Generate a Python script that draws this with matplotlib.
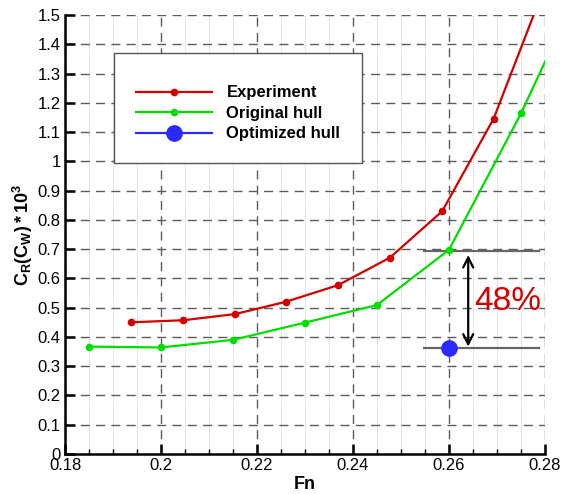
import numpy as np
import matplotlib
matplotlib.use('Agg')
import matplotlib.pyplot as plt
from matplotlib.ticker import MultipleLocator, FuncFormatter

plt.rcParams['font.family'] = ['Liberation Sans', 'DejaVu Sans']
plt.rcParams['mathtext.fontset'] = 'custom'
plt.rcParams['mathtext.rm'] = 'Liberation Sans'
plt.rcParams['mathtext.bf'] = 'Liberation Sans:bold'
plt.rcParams['mathtext.it'] = 'Liberation Sans:italic'

# data
fn_exp = [0.1938, 0.2046, 0.2154, 0.2260, 0.2369, 0.2477, 0.2586, 0.2693, 0.2800]
cr_exp = [0.450, 0.457, 0.478, 0.520, 0.577, 0.671, 0.830, 1.146, 1.600]

fn_orig = [0.185, 0.200, 0.215, 0.230, 0.245, 0.260, 0.275, 0.290]
cr_orig = [0.367, 0.364, 0.390, 0.449, 0.509, 0.698, 1.164, 1.692]

fn_opt = [0.260]
cr_opt = [0.363]

# reference levels for the reduction annotation
level_orig = 0.695
level_opt = 0.362
level_x = [0.2548, 0.2788]
arrow_x = 0.2640
pct_label = "48%"

fig = plt.figure(figsize=(5.63, 4.94), dpi=100)
ax = fig.add_axes([65 / 563, 40 / 494, 480 / 563, 439 / 494])

ax.set_xlim(0.18, 0.28)
ax.set_ylim(0, 1.5)
ax.xaxis.set_major_locator(MultipleLocator(0.02))
ax.xaxis.set_minor_locator(MultipleLocator(0.005))
ax.yaxis.set_major_locator(MultipleLocator(0.1))
ax.xaxis.set_major_formatter(FuncFormatter(lambda v, p: f"{round(v, 3):g}"))
ax.yaxis.set_major_formatter(FuncFormatter(lambda v, p: f"{round(v, 3):g}"))

ax.grid(which='minor', axis='x', color='#b8b8b8', lw=0.6, ls=(0, (1, 1.5)), zorder=0)
ax.grid(which='major', color='#5c5c5c', lw=1.0, ls=(0, (6.5, 4.5)), zorder=0)
ax.set_axisbelow(True)

for s in ['top', 'right']:
    ax.spines[s].set_visible(False)
for s in ['left', 'bottom']:
    ax.spines[s].set_linewidth(1.8)

ax.tick_params(which='major', direction='in', length=7, width=1.8, labelsize=12, pad=3)
ax.tick_params(which='minor', direction='in', length=3.5, width=1.0)
ax.tick_params(axis='y', which='minor', left=False)

ax.plot(fn_exp, cr_exp, color='#d40000', lw=1.6, marker='o', ms=4.5, label='Experiment', zorder=3)
ax.plot(fn_orig, cr_orig, color='#00dd00', lw=1.6, marker='o', ms=4.5, label='Original hull', zorder=3)
ax.plot(fn_opt, cr_opt, color='#2a2aff', lw=1.6, marker='o', ms=11, label='Optimized hull', zorder=4)

ax.plot(level_x, [level_orig, level_orig], color='#666666', lw=1.6, zorder=2)
ax.plot(level_x, [level_opt, level_opt], color='#666666', lw=1.6, zorder=2)
ax.annotate('', xy=(arrow_x, level_opt + 0.005), xytext=(arrow_x, level_orig - 0.015),
            arrowprops=dict(arrowstyle='<->', lw=1.6, color='black',
                            mutation_scale=18, shrinkA=0, shrinkB=0), zorder=5)
ax.text(0.2722, 0.52, pct_label, color='#d40000', fontsize=24, ha='center', va='center', zorder=5)

ax.set_xlabel('Fn', fontsize=13, fontweight='bold', labelpad=2)
ax.set_ylabel(r'$\mathbf{C_R(C_W)*10^3}$', fontsize=13, labelpad=2)

# empty small title only adds some room above the first row, as in the original
leg = ax.legend(loc='upper left', bbox_to_anchor=(0.102, 0.913), numpoints=1,
                prop=dict(size=12, weight='bold'), handlelength=4.6, handletextpad=0.85,
                borderpad=1.3, labelspacing=0.33, fancybox=False, framealpha=1,
                edgecolor='#555555', borderaxespad=0, title=' ', title_fontsize=4)
leg.get_frame().set_linewidth(1.0)

fig.savefig('out.png', dpi=100)
